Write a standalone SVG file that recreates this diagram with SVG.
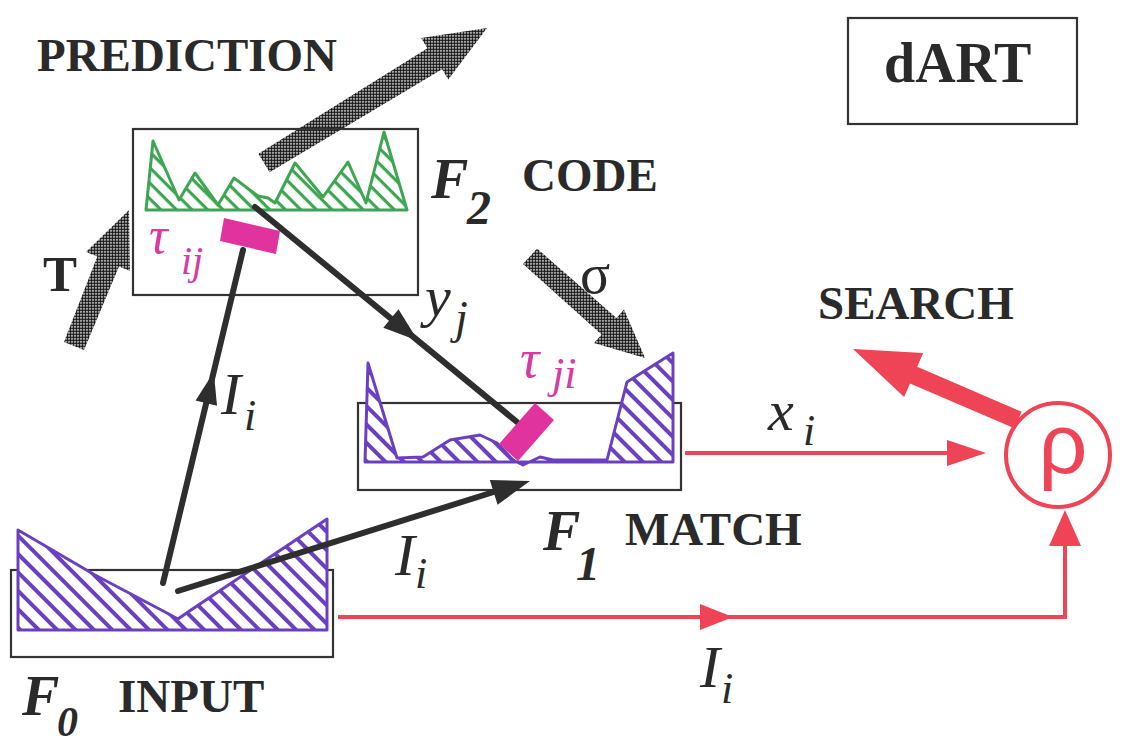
<svg xmlns="http://www.w3.org/2000/svg" width="1121" height="745" viewBox="0 0 1121 745">
<defs>
<pattern id="half" width="3" height="3" patternUnits="userSpaceOnUse"><rect width="3" height="3" fill="#fff"/><circle cx="1.5" cy="1.5" r="1.42" fill="#151515"/></pattern>
<pattern id="hg" width="11" height="11" patternUnits="userSpaceOnUse" patternTransform="rotate(45)"><rect width="11" height="11" fill="#fff"/><rect width="11" height="3.2" fill="#3ea552"/></pattern>
<pattern id="hp" width="13" height="13" patternUnits="userSpaceOnUse" patternTransform="rotate(45)"><rect width="13" height="13" fill="#fff"/><rect width="13" height="4" fill="#6a40c0"/></pattern>
</defs>
<style>
.box{fill:none;stroke:#333;stroke-width:2.2}
.lbl{font-family:"Liberation Serif","Times New Roman",serif;font-weight:bold;fill:#2a2a2a}
.fl{font-family:"Liberation Serif","Times New Roman",serif;font-weight:bold;font-style:italic;fill:#2a2a2a}
.m{font-family:"Liberation Serif","Times New Roman",serif;font-style:italic;fill:#2a2a2a}
.tau{font-family:"Liberation Serif","Times New Roman",serif;font-style:italic;fill:#d63ba3}
.gray{fill:url(#half)}
.blk{stroke:#2e2e2e;stroke-width:6;fill:none;stroke-linecap:round}
.bh{fill:#2e2e2e}
.red{stroke:#ee4456;stroke-width:4;fill:none}
.rh{fill:#ee4456}
.green{fill:url(#hg);stroke:#3ea552;stroke-width:3;stroke-linejoin:round}
.purple{fill:url(#hp);stroke:#6a40c0;stroke-width:3;stroke-linejoin:round}
.mag{fill:#e0339d}
</style>

<g id="title-dart">
<rect class="box" x="848" y="18" width="229" height="106"/>
<text class="lbl" x="884" y="82" font-size="56">dART</text>
</g>

<g id="prediction">
<text class="lbl" x="37" y="71" font-size="47" textLength="300" lengthAdjust="spacingAndGlyphs">PREDICTION</text>
<polygon class="gray" points="487,28 448.3,79.6 442.1,69.3 269.6,172.3 258.4,153.7 427.4,48.2 421.1,37.9"/>
</g>

<g id="T-arrow">
<polygon class="gray" points="129,210 130,271 119,266.5 84,350 64,342 97.3,256.4 86,252"/>
<text class="lbl" x="43" y="291" font-size="51">T</text>
</g>

<g id="F2">
<rect class="box" x="133" y="129" width="285" height="166"/>
<polygon class="green" points="146,210 153,141 179,200 195,173 218,205 234,178 258,196 268,198 275,203 295,163 323,197 348,162 366,203 384,132 407,210"/>
<polygon class="mag" points="224,218 280,231 276,254 220,241"/>
<text class="tau" x="149" y="253" font-size="52">τ</text>
<text class="tau" x="181" y="274" font-size="40">ij</text>
<text class="fl" x="431" y="198" font-size="56">F</text>
<text class="fl" x="467" y="224" font-size="48">2</text>
<text class="lbl" x="522" y="191" font-size="47">CODE</text>
</g>

<g id="sigma-arrow">
<polygon class="gray" points="645,358 594,343 601.5,334.5 523,264 537,248.5 616.5,318 624,309.5"/>
<text font-family="Liberation Serif, serif" x="580" y="293" font-size="56" fill="#2a2a2a">σ</text>
</g>

<g id="F1">
<rect class="box" x="358" y="403" width="323" height="87"/>
<polygon class="purple" points="365,462 368,363 397,458 423,457 450,440 480,435 497,443 513,460 523,465 540,457 553,460 607,460 627,382 673,353 673,462"/>
<text class="fl" x="543" y="550" font-size="56">F</text>
<text class="fl" x="576" y="580" font-size="48">1</text>
<text class="lbl" x="625" y="545" font-size="47">MATCH</text>
</g>

<g id="F0">
<rect class="box" x="11" y="570" width="322" height="87"/>
<polygon class="purple" points="18,630 18,530 95,575 165,612 178,619 188,612 327,519 327,630"/>
<text class="fl" x="22" y="715" font-size="56">F</text>
<text class="fl" x="57" y="736" font-size="42">0</text>
<text class="lbl" x="118" y="712" font-size="47">INPUT</text>
</g>

<g id="connectors">
<line class="blk" x1="163" y1="583" x2="243" y2="250"/>
<polygon class="bh" points="213.8,372 217,405.7 195.6,400.5"/>
<line class="blk" x1="178" y1="591" x2="500" y2="490"/>
<polygon class="bh" points="530,481 497.6,504.7 489.8,479.9"/>
<line class="blk" x1="255" y1="207" x2="517" y2="422"/>
<polygon class="bh" points="418,340.7 383.3,327.8 398.5,309.2"/>
<line class="red" x1="685" y1="453" x2="955" y2="453"/>
<polygon class="rh" points="986,453 947,440 947,466"/>
<polyline class="red" points="338,617 1065,617 1065,540"/>
<polygon class="rh" points="733,617 700,604 700,630"/>
<polygon class="rh" points="1065,510 1049,546 1081,546"/>
</g>

<g id="tau-ji">
<polygon class="mag" points="535,403 554,420 518,461 499,444"/>
<text class="tau" x="520" y="377" font-size="54">τ</text>
<text class="tau" x="552" y="388" font-size="44">ji</text>
</g>

<g id="labels">
<text class="m" x="221" y="414" font-size="60">I</text>
<text class="m" x="244" y="430" font-size="44">i</text>
<text class="m" x="395" y="575" font-size="60">I</text>
<text class="m" x="415" y="588" font-size="44">i</text>
<text class="m" x="700" y="687" font-size="60">I</text>
<text class="m" x="721" y="703" font-size="44">i</text>
<text class="m" x="425" y="316" font-size="58">y</text>
<text class="m" x="455" y="333" font-size="46">j</text>
<text class="m" x="768" y="430" font-size="58">x</text>
<text class="m" x="803" y="445" font-size="44">i</text>
</g>

<g id="rho">
<circle cx="1058" cy="455" r="52" fill="none" stroke="#ee4456" stroke-width="4"/>
<text x="1063" y="473" font-family="Liberation Sans, Arial, sans-serif" font-size="86" fill="#ee4456" text-anchor="middle">ρ</text>
</g>

<g id="search">
<polygon class="rh" points="853,349 923.1,353.1 917.2,366.8 1021.6,411.7 1014.4,428.3 910,383.4 904.1,397.1"/>
<text class="lbl" x="818" y="319" font-size="47">SEARCH</text>
</g>
</svg>
